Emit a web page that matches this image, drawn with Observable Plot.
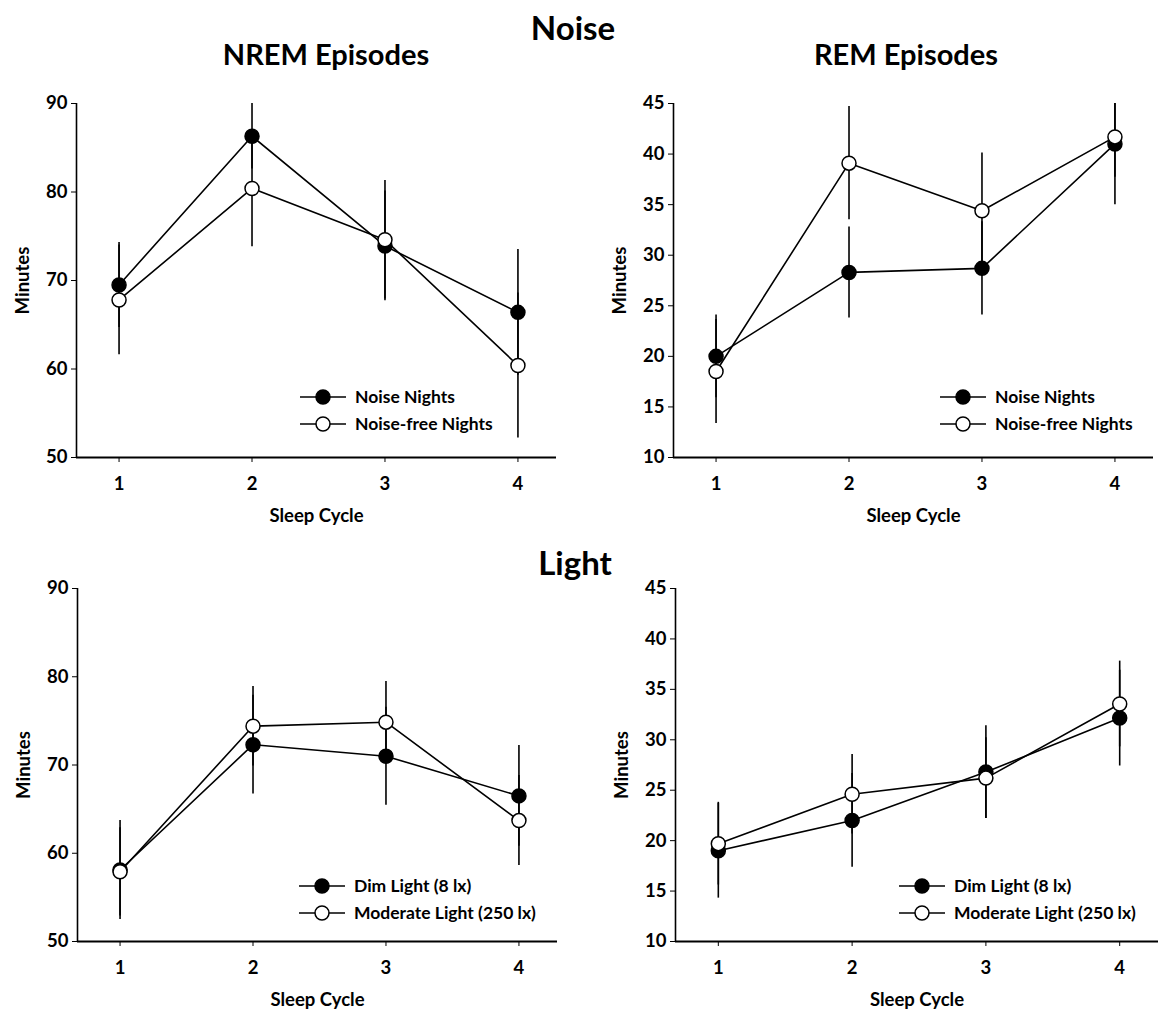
<!DOCTYPE html>
<html>
<head>
<meta charset="utf-8">
<script src="https://cdn.jsdelivr.net/npm/d3@7"></script>
<script src="https://cdn.jsdelivr.net/npm/@observablehq/plot@0.6"></script>
<style>
  html, body { margin: 0; padding: 0; background: #fff; }
  #root { position: relative; width: 1162px; height: 1021px; background: #fff; font-family: Lato, "Open Sans", sans-serif; color: #000; overflow: hidden; }
  .title { position: absolute; font-weight: bold; transform: translate(-50%, -50%); white-space: nowrap; line-height: 1; }
  .panel { position: absolute; }
  .legend { position: absolute; font-weight: bold; font-size: 17.5px; }
  .legend .row { display: flex; align-items: center; height: 27px; white-space: nowrap; }
  .legend svg { display: block; margin-right: 8px; }
</style>
</head>
<body>
<div id="root"></div>
<script>
// ---------- data ----------
const cycles = [1, 2, 3, 4];

const nremTicks = [50, 60, 70, 80, 90];
const remTicks = [10, 15, 20, 25, 30, 35, 40, 45];

// NREM episodes, noise study
const nremNoiseMean = [69.5, 86.3, 73.9, 66.4];
const nremNoiseSE = [4.8, 3.7, 6.2, 7.1];
const nremNoiseFreeMean = [67.8, 80.4, 74.6, 60.4];
const nremNoiseFreeSE = [6.2, 6.6, 6.7, 8.2];

// REM episodes, noise study
const remNoiseMean = [20.0, 28.3, 28.7, 41.0];
const remNoiseSE = [4.1, 4.5, 4.6, 6.0];
const remNoiseFreeMean = [18.5, 39.1, 34.4, 41.7];
const remNoiseFreeSE = [5.15, 5.6, 5.7, 4.0];

// NREM episodes, light study
const nremDimMean = [58.1, 72.3, 71.0, 66.5];
const nremDimSE = [5.6, 5.6, 5.55, 5.7];
const nremModMean = [57.9, 74.4, 74.85, 63.7];
const nremModSE = [5.0, 4.5, 4.6, 5.1];

// REM episodes, light study
const remDimMean = [19.0, 22.0, 26.8, 32.15];
const remDimSE = [4.7, 4.65, 4.6, 4.75];
const remModMean = [19.7, 24.6, 26.2, 33.55];
const remModSE = [4.1, 3.95, 4.0, 4.25];

const noiseLabels = ["Noise Nights", "Noise-free Nights"];
const lightLabels = ["Dim Light (8 lx)", "Moderate Light (250 lx)"];

const xDomain = [0.68, 4.29];

// ---------- drawing ----------
const root = document.getElementById("root");

function addTitle(text, cx, cy, size) {
  const d = document.createElement("div");
  d.className = "title";
  d.textContent = text;
  d.style.left = cx + "px";
  d.style.top = cy + "px";
  d.style.fontSize = size + "px";
  root.appendChild(d);
}

function addLegend(labels, left, top) {
  const lg = document.createElement("div");
  lg.className = "legend";
  lg.style.left = left + "px";
  lg.style.top = top + "px";
  labels.forEach((lab, i) => {
    const row = document.createElement("div");
    row.className = "row";
    row.innerHTML =
      `<svg width="48" height="20"><line x1="1" y1="10" x2="47" y2="10" stroke="#000" stroke-width="1.5"/>` +
      `<circle cx="24" cy="10" r="7" fill="${i === 0 ? "#000" : "#fff"}" stroke="#000" stroke-width="1.5"/></svg>` +
      `<span>${lab}</span>`;
    lg.appendChild(row);
  });
  root.appendChild(lg);
}

function addPanel(cfg) {
  const data = [];
  cfg.series.forEach((s, si) => {
    s.mean.forEach((m, i) => data.push({series: s.name, filled: si === 0, cycle: cycles[i], mean: m, se: s.se[i]}));
  });
  const chart = Plot.plot({
    width: cfg.width,
    height: cfg.height,
    marginLeft: cfg.ml,
    marginRight: cfg.mr,
    marginTop: cfg.mt,
    marginBottom: cfg.mb,
    style: {fontFamily: "Lato, 'Open Sans', sans-serif", fontSize: "18.5px", fontWeight: "bold", color: "#000", background: "transparent", overflow: "visible"},
    x: {domain: xDomain, ticks: cycles, tickFormat: d => String(d), label: "Sleep Cycle", labelAnchor: "center", labelArrow: "none", labelOffset: 64, tickSize: 5, tickPadding: 14},
    y: {domain: cfg.yDomain, ticks: cfg.yTicks, tickFormat: d => String(d), label: "Minutes", labelAnchor: "center", labelArrow: "none", labelOffset: 61, tickSize: 5, tickPadding: 4},
    marks: [
      Plot.ruleX([xDomain[0]], {stroke: "#000", strokeWidth: 1.6}),
      Plot.ruleY([cfg.yDomain[0]], {stroke: "#000", strokeWidth: 2}),
      Plot.ruleX(data, {x: "cycle", y1: d => d.mean - d.se, y2: d => d.mean + d.se, stroke: "#000", strokeWidth: 1.6, clip: true}),
      Plot.line(data, {x: "cycle", y: "mean", z: "series", stroke: "#000", strokeWidth: 1.6}),
      Plot.dot(data, {x: "cycle", y: "mean", r: 7, fill: d => d.filled ? "#000" : "#fff", stroke: "#000", strokeWidth: 1.5})
    ]
  });
  const wrap = document.createElement("div");
  wrap.className = "panel";
  wrap.style.left = cfg.left + "px";
  wrap.style.top = cfg.top + "px";
  wrap.appendChild(chart);
  root.appendChild(wrap);
}

addPanel({left: 0, top: 80, width: 580, height: 470, ml: 76, mr: 24, mt: 23, mb: 93,
  yDomain: [50, 90], yTicks: nremTicks,
  series: [{name: noiseLabels[0], mean: nremNoiseMean, se: nremNoiseSE}, {name: noiseLabels[1], mean: nremNoiseFreeMean, se: nremNoiseFreeSE}]});
addPanel({left: 580, top: 80, width: 582, height: 470, ml: 93, mr: 9, mt: 23, mb: 93,
  yDomain: [10, 45], yTicks: remTicks,
  series: [{name: noiseLabels[0], mean: remNoiseMean, se: remNoiseSE}, {name: noiseLabels[1], mean: remNoiseFreeMean, se: remNoiseFreeSE}]});
addPanel({left: 0, top: 565, width: 580, height: 456, ml: 77, mr: 23, mt: 23, mb: 80,
  yDomain: [50, 90], yTicks: nremTicks,
  series: [{name: lightLabels[0], mean: nremDimMean, se: nremDimSE}, {name: lightLabels[1], mean: nremModMean, se: nremModSE}]});
addPanel({left: 580, top: 565, width: 582, height: 456, ml: 95, mr: 4, mt: 23, mb: 80,
  yDomain: [10, 45], yTicks: remTicks,
  series: [{name: lightLabels[0], mean: remDimMean, se: remDimSE}, {name: lightLabels[1], mean: remModMean, se: remModSE}]});

addTitle("Noise", 573, 27, 33);
addTitle("NREM Episodes", 326, 53, 29);
addTitle("REM Episodes", 906, 53, 29);
addTitle("Light", 575, 562, 33);

addLegend(noiseLabels, 299, 383);
addLegend(noiseLabels, 939, 383);
addLegend(lightLabels, 298, 872);
addLegend(lightLabels, 898, 872);
</script>
</body>
</html>
